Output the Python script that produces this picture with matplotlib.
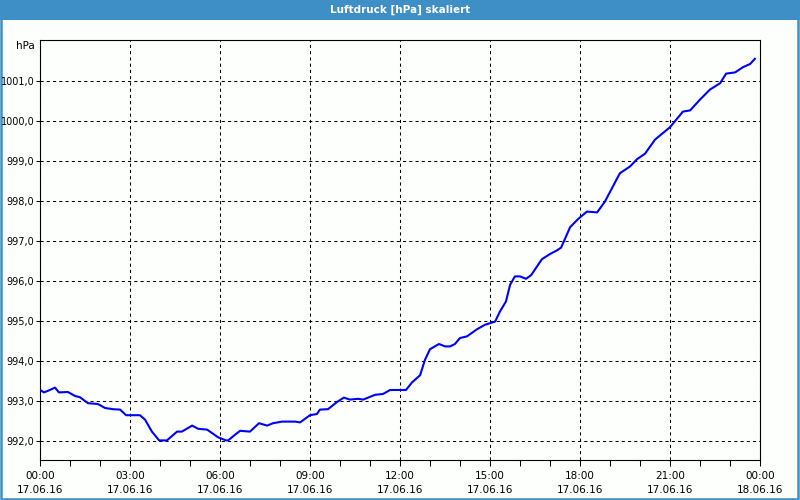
import pandas as pd
import matplotlib.pyplot as plt
import matplotlib.dates as mdates
from matplotlib.patches import Rectangle
from matplotlib.ticker import FuncFormatter

# Luftdruck am 17.06.16, Stunden ab 00:00 und Wert in hPa
hours = [0.03, 0.13, 0.33, 0.50, 0.63, 0.93, 1.17, 1.33, 1.60, 1.93,
         2.17, 2.43, 2.67, 2.87, 3.33, 3.50, 3.73, 3.97, 4.23, 4.57,
         4.73, 5.07, 5.27, 5.57, 5.93, 6.20, 6.27, 6.50, 6.67, 7.00,
         7.30, 7.57, 7.77, 8.07, 8.50, 8.67, 9.00, 9.23, 9.33, 9.60,
         9.90, 10.13, 10.33, 10.60, 10.77, 11.17, 11.43, 11.67, 12.20, 12.40,
         12.67, 12.83, 13.00, 13.30, 13.50, 13.67, 13.83, 14.00, 14.23, 14.57,
         14.83, 15.17, 15.33, 15.53, 15.67, 15.83, 16.00, 16.20, 16.37, 16.73,
         17.00, 17.23, 17.37, 17.67, 17.93, 18.23, 18.57, 18.83, 19.33, 19.67,
         19.90, 20.17, 20.50, 21.00, 21.43, 21.67, 22.00, 22.33, 22.67, 22.87,
         23.17, 23.43, 23.67, 23.83]
pressure = [993.26, 993.21, 993.27, 993.33, 993.21, 993.22, 993.12, 993.09, 992.94, 992.92,
            992.82, 992.79, 992.78, 992.64, 992.64, 992.53, 992.23, 992.01, 992.01, 992.23,
            992.23, 992.38, 992.30, 992.28, 992.09, 992.01, 992.01, 992.15, 992.25, 992.23,
            992.44, 992.38, 992.44, 992.48, 992.48, 992.46, 992.64, 992.67, 992.78, 992.79,
            992.97, 993.08, 993.03, 993.05, 993.03, 993.15, 993.17, 993.27, 993.27, 993.46,
            993.64, 994.02, 994.29, 994.42, 994.36, 994.36, 994.42, 994.57, 994.61, 994.79,
            994.90, 994.98, 995.23, 995.48, 995.90, 996.11, 996.11, 996.05, 996.14, 996.54,
            996.67, 996.76, 996.83, 997.34, 997.54, 997.73, 997.71, 997.98, 998.69, 998.86,
            999.04, 999.18, 999.53, 999.84, 1000.23, 1000.26, 1000.53, 1000.78, 1000.94, 1001.18,
            1001.21, 1001.34, 1001.42, 1001.55]
y_ticks = [992, 993, 994, 995, 996, 997, 998, 999, 1000, 1001]

start = pd.Timestamp("2016-06-17 00:00")
times = start + pd.to_timedelta(hours, unit="h")

blue = "#3d8fc6"

fig = plt.figure(figsize=(8, 5), dpi=100, facecolor="#fcfffc")

# Titelleiste und Rahmen (unter den Achsen gezeichnet)
fig.patches.append(Rectangle((0, 0.96), 1, 0.04, transform=fig.transFigure,
                             facecolor=blue, edgecolor="none", zorder=-2))
fig.patches.append(Rectangle((0.001, 0.002), 0.997, 0.996, transform=fig.transFigure,
                             facecolor="none", edgecolor=blue, linewidth=1.8, zorder=-1))
fig.text(0.5, 0.98, "Luftdruck [hPa] skaliert", color="white", fontsize=7.5,
         fontweight="bold", ha="center", va="center")
fig.text(0.044, 0.908, "hPa", fontsize=7.5, ha="right", va="center")

ax = fig.add_axes([0.05, 0.08, 0.9, 0.84])
ax.set_facecolor("#fcfffc")
ax.plot(times, pressure, color="#0000ff", linewidth=1.5, zorder=3)

ax.set_xlim(start, start + pd.Timedelta(hours=24))
ax.set_ylim(991.52, 1002.02)
ax.set_yticks(y_ticks)
ax.yaxis.set_major_formatter(FuncFormatter(lambda v, p: f"{v:.1f}".replace(".", ",")))

ax.xaxis.set_major_locator(mdates.HourLocator(byhour=range(0, 24, 3)))
ax.xaxis.set_minor_locator(mdates.HourLocator())
ax.xaxis.set_major_formatter(mdates.DateFormatter("%H:%M\n%d.%m.%y"))

ax.grid(True, which="major", color="black", linestyle=(0, (3, 3)), linewidth=0.75)
for s in ax.spines.values():
    s.set_color("black")
    s.set_linewidth(0.8)

ax.tick_params(axis="x", which="major", length=4, width=0.75, labelsize=7.5, pad=4)
ax.tick_params(axis="x", which="minor", length=4, width=0.75)
ax.tick_params(axis="y", length=3, width=0.75, labelsize=7, pad=1)
for lbl in ax.get_xticklabels():
    lbl.set_linespacing(1.5)

plt.savefig("out.png", dpi=100, facecolor=fig.get_facecolor())
